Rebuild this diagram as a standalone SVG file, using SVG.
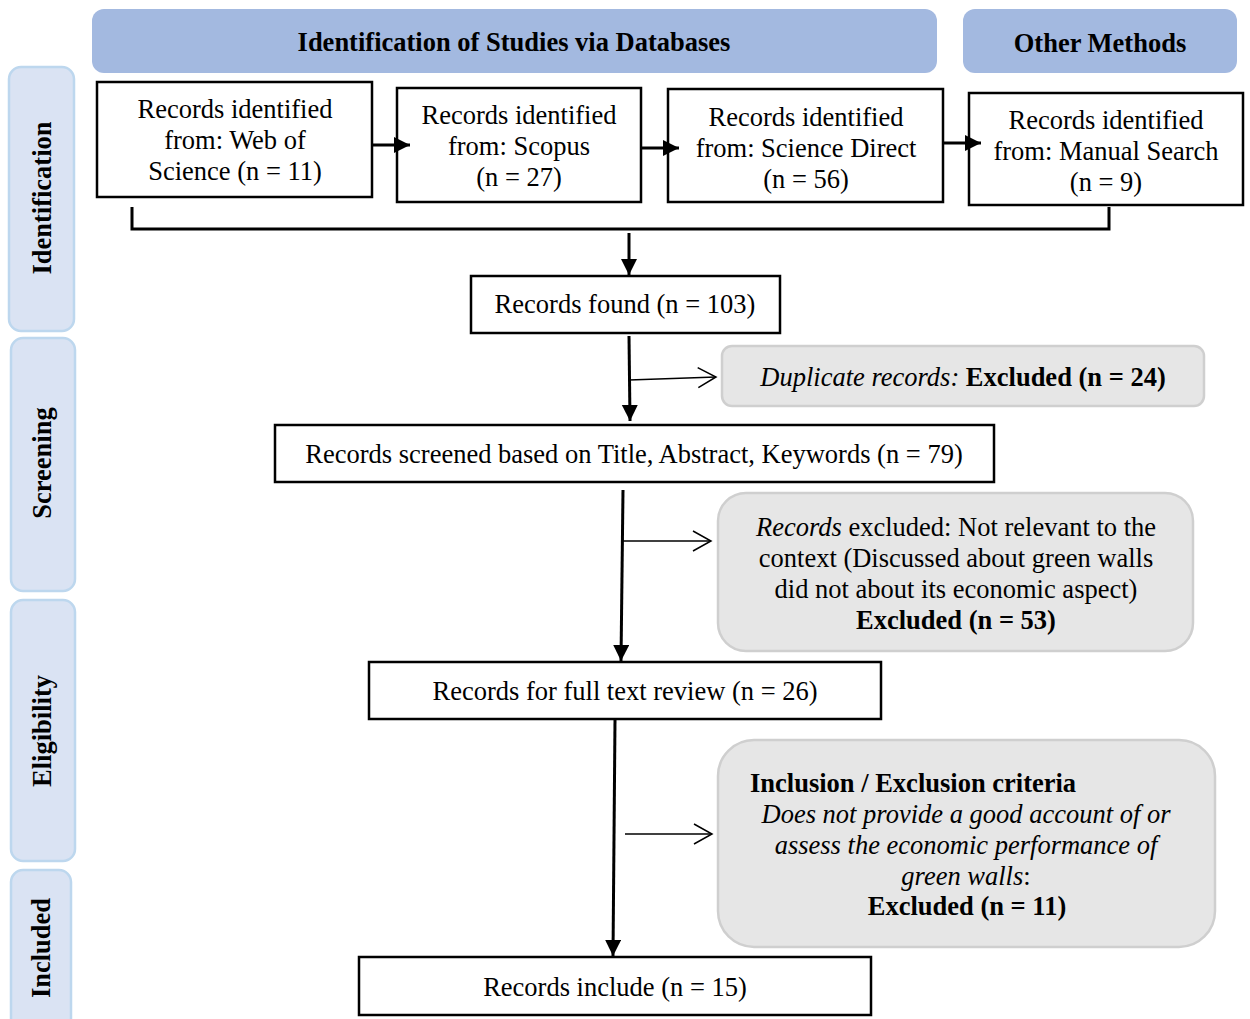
<svg xmlns="http://www.w3.org/2000/svg" width="1250" height="1019" viewBox="0 0 1250 1019">
<defs>
<style>
text{font-family:"Liberation Serif","Times New Roman",serif;font-size:26.5px;fill:#000}
.b{font-weight:bold}
.i{font-style:italic}
.c{text-anchor:middle}
.side{fill:#dae3f3;stroke:#bdd7ee;stroke-width:2.5}
.head{fill:#a3b9e0;stroke:none}
.box{fill:#fff;stroke:#000;stroke-width:2.5}
.gray{fill:#e6e6e6;stroke:#cfcfcf;stroke-width:2.5}
.thick{fill:none;stroke:#000;stroke-width:3}
.thin{fill:none;stroke:#000;stroke-width:1.5}
</style>
<marker id="ah" markerUnits="userSpaceOnUse" markerWidth="18" markerHeight="18" refX="16" refY="8" orient="auto">
<path d="M0,0 L16,8 L0,16 z" fill="#000"/>
</marker>
<marker id="ch" markerUnits="userSpaceOnUse" markerWidth="24" markerHeight="24" refX="19" refY="11" orient="auto">
<path d="M1,1 L19,11 L1,21" fill="none" stroke="#000" stroke-width="1.5"/>
</marker>
</defs>

<g id="phase-identification">
<rect class="side" x="9" y="67" width="65" height="264" rx="12"/>
<text class="b c" transform="translate(51,198) rotate(-90)">Identification</text>
</g>
<g id="phase-screening">
<rect class="side" x="11" y="338" width="64" height="253" rx="12"/>
<text class="b c" transform="translate(51,463) rotate(-90)">Screening</text>
</g>
<g id="phase-eligibility">
<rect class="side" x="11" y="600" width="64" height="261" rx="12"/>
<text class="b c" transform="translate(51,731) rotate(-90)">Eligibility</text>
</g>
<g id="phase-included">
<rect class="side" x="11" y="870" width="60" height="160" rx="12"/>
<text class="b c" transform="translate(50,948) rotate(-90)">Included</text>
</g>

<g id="header-databases">
<rect class="head" x="92" y="9" width="845" height="64" rx="12"/>
<text class="b c" x="514" y="51">Identification of Studies via Databases</text>
</g>
<g id="header-other">
<rect class="head" x="963" y="9" width="274" height="64" rx="12"/>
<text class="b c" x="1100" y="52">Other Methods</text>
</g>

<g id="wos">
<rect class="box" x="97" y="82" width="275" height="115"/>
<text class="c" x="235" y="118">Records identified</text>
<text class="c" x="235" y="149">from: Web of</text>
<text class="c" x="235" y="180">Science (n = 11)</text>
</g>
<g id="scopus">
<rect class="box" x="397" y="88" width="244" height="114"/>
<text class="c" x="519" y="124">Records identified</text>
<text class="c" x="519" y="155">from: Scopus</text>
<text class="c" x="519" y="186">(n = 27)</text>
</g>
<g id="sciencedirect">
<rect class="box" x="668" y="89" width="275" height="113"/>
<text class="c" x="806" y="126">Records identified</text>
<text class="c" x="806" y="157">from: Science Direct</text>
<text class="c" x="806" y="188">(n = 56)</text>
</g>
<g id="manual">
<rect class="box" x="969" y="93" width="274" height="112"/>
<text class="c" x="1106" y="129">Records identified</text>
<text class="c" x="1106" y="160">from: Manual Search</text>
<text class="c" x="1106" y="191">(n = 9)</text>
</g>

<g id="found">
<rect class="box" x="471" y="276" width="309" height="57"/>
<text class="c" x="625" y="313">Records found (n = 103)</text>
</g>
<g id="duplicates">
<rect class="gray" x="722" y="346" width="482" height="60" rx="10"/>
<text class="c" x="963" y="386"><tspan class="i">Duplicate records:</tspan> <tspan class="b">Excluded (n = 24)</tspan></text>
</g>
<g id="screened">
<rect class="box" x="275" y="425" width="719" height="57"/>
<text class="c" x="634" y="463">Records screened based on Title, Abstract, Keywords (n = 79)</text>
</g>
<g id="excluded-screen">
<rect class="gray" x="718" y="493" width="475" height="158" rx="28"/>
<text class="c" x="956" y="536"><tspan class="i">Records</tspan> excluded: Not relevant to the</text>
<text class="c" x="956" y="567">context (Discussed about green walls</text>
<text class="c" x="956" y="598">did not about its economic aspect)</text>
<text class="b c" x="956" y="629">Excluded (n = 53)</text>
</g>
<g id="fulltext">
<rect class="box" x="369" y="662" width="512" height="57"/>
<text class="c" x="625" y="700">Records for full text review (n = 26)</text>
</g>
<g id="criteria">
<rect class="gray" x="718" y="740" width="497" height="207" rx="36"/>
<text class="b" x="750" y="792">Inclusion / Exclusion criteria</text>
<text class="i c" x="966" y="823">Does not provide a good account of or</text>
<text class="i c" x="966" y="854">assess the economic performance of</text>
<text class="c" x="966" y="885"><tspan class="i">green walls</tspan>:</text>
<text class="b c" x="967" y="915">Excluded (n = 11)</text>
</g>
<g id="included">
<rect class="box" x="359" y="957" width="512" height="58"/>
<text class="c" x="615" y="996">Records include (n = 15)</text>
</g>

<g id="connectors">
<line class="thick" x1="372" y1="145" x2="410" y2="145" marker-end="url(#ah)"/>
<line class="thick" x1="641" y1="148" x2="679" y2="148" marker-end="url(#ah)"/>
<line class="thick" x1="943" y1="143" x2="981" y2="143" marker-end="url(#ah)"/>
<path class="thick" d="M132,207 V229 H1109 V207"/>
<line class="thick" x1="629" y1="233" x2="629" y2="275" marker-end="url(#ah)"/>
<line class="thick" x1="629" y1="336" x2="630" y2="421" marker-end="url(#ah)"/>
<line class="thin" x1="629" y1="380" x2="716" y2="377" marker-end="url(#ch)"/>
<line class="thick" x1="623" y1="490" x2="621" y2="661" marker-end="url(#ah)"/>
<line class="thin" x1="623" y1="541" x2="711" y2="541" marker-end="url(#ch)"/>
<line class="thick" x1="615" y1="720" x2="613" y2="956" marker-end="url(#ah)"/>
<line class="thin" x1="625" y1="834" x2="712" y2="834" marker-end="url(#ch)"/>
</g>
</svg>
